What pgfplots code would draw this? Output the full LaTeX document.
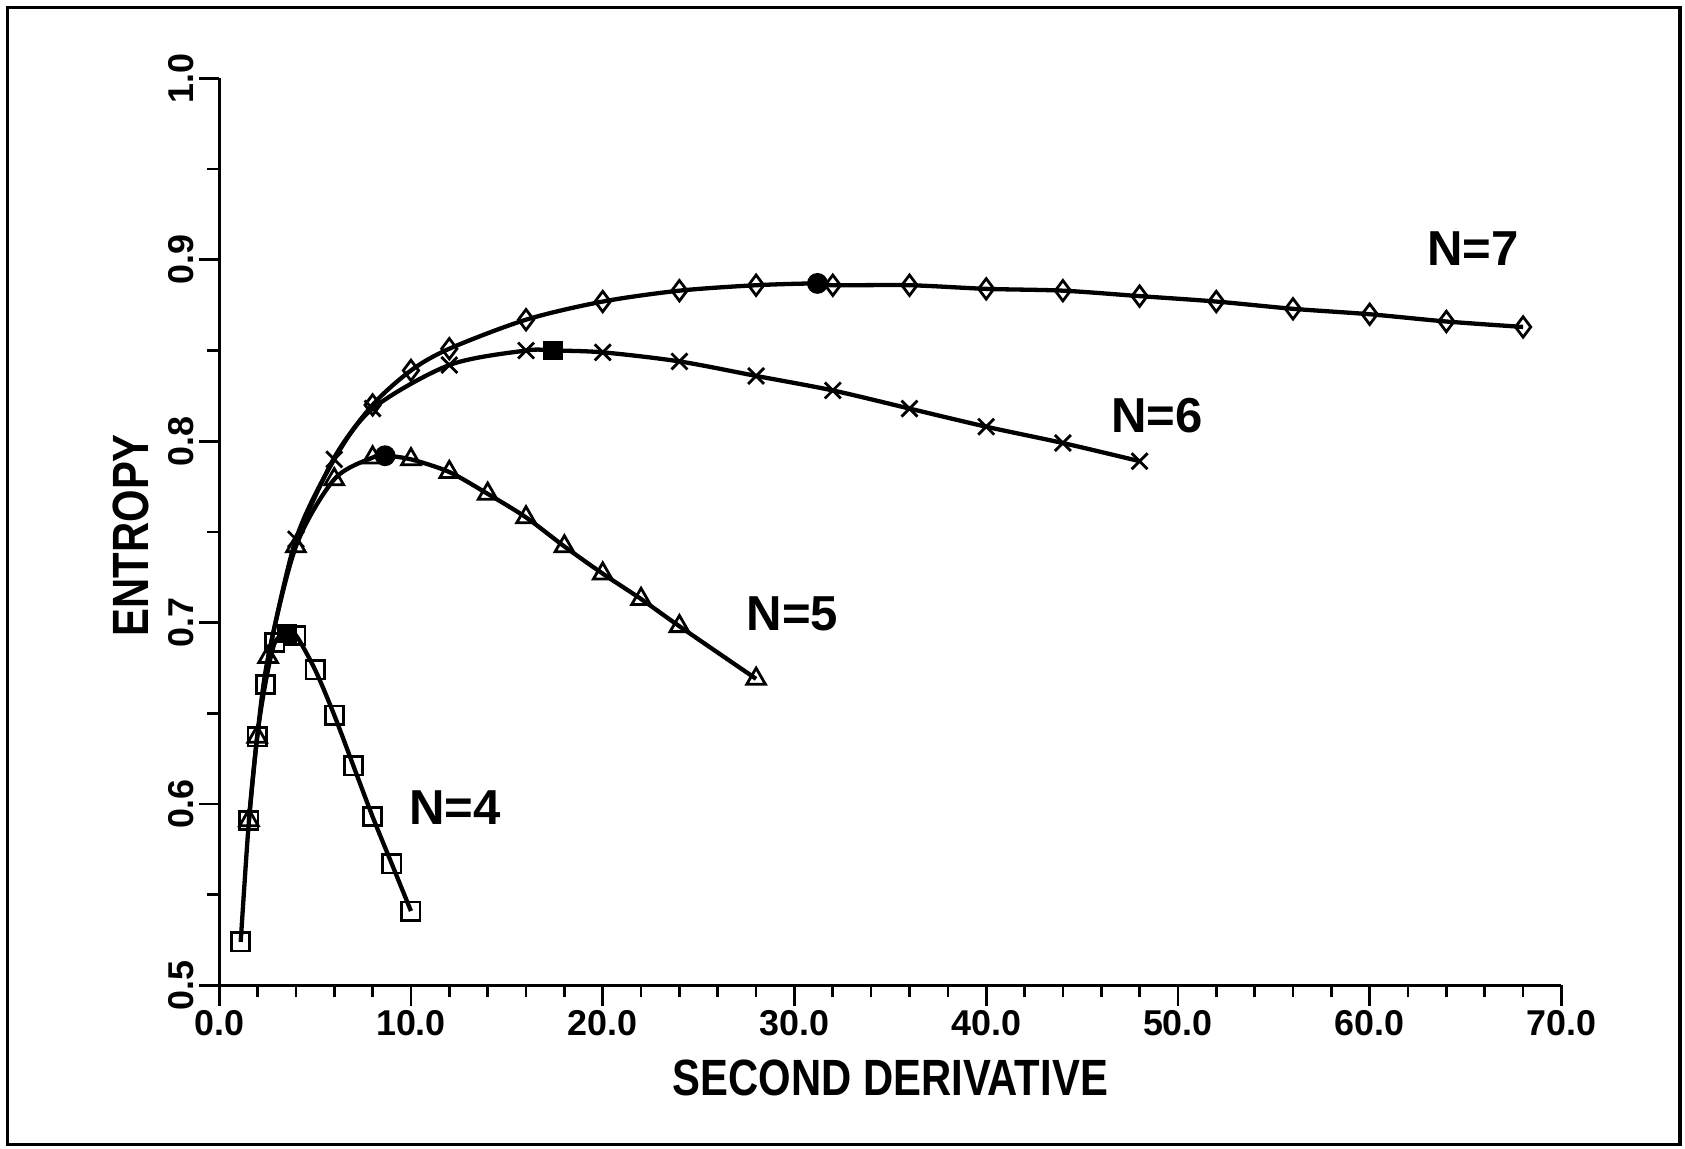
\documentclass[border=0pt]{standalone}
\usepackage{fontspec}
\setmainfont{Liberation Sans}
\newfontfamily\labfont{Liberation Sans}[FakeStretch=0.82]
\usepackage{pgfplots}
\pgfplotsset{compat=1.18}

\begin{document}
\begin{tikzpicture}
\useasboundingbox (0,0) rectangle (156.8mm,106.9mm);
\draw[line width=0.35mm] (0.7mm,0.4mm) rectangle (156.3mm,106.2mm);
\begin{axis}[
  at={(20.4mm,15.2mm)}, anchor=south west,
  scale only axis, width=124.9mm, height=84.4mm,
  xmin=0, xmax=70, ymin=0.5, ymax=1.0,
  axis x line*=bottom, axis y line*=left,
  axis line style={line width=0.3mm, -},
  every tick/.style={line width=0.25mm, black},
  tick align=outside,
  major tick length=1.9mm, minor tick length=1.1mm,
  xtick={0,10,20,30,40,50,60,70}, minor x tick num=4,
  ytick={0.5,0.6,0.7,0.8,0.9,1.0}, minor y tick num=1,
  /pgf/number format/.cd, fixed, fixed zerofill, precision=1, assume math mode=true,
  /pgfplots/.cd,
  ticklabel style={font=\bfseries\fontsize{9.5}{11}\selectfont},
  xticklabel style={inner sep=1pt},
  yticklabel style={rotate=90, anchor=south, inner sep=1pt},
  xlabel={SECOND DERIVATIVE}, ylabel={ENTROPY},
  xlabel style={at={(rel axis cs:0.5,-0.102)}, anchor=center, font=\labfont\bfseries\fontsize{13.5}{16}\selectfont},
  ylabel style={at={(rel axis cs:-0.0657,0.4964)}, anchor=center, font=\labfont\bfseries\fontsize{13.5}{16}\selectfont},
  clip=false,
]
% N=4
\addplot[line width=0.4mm, smooth, tension=0.5, no marks] coordinates {
(1.12,0.524)(1.55,0.591)(1.98,0.637)(2.4,0.666)(2.9,0.689)(3.55,0.694)(4.0,0.693)(5.0,0.674)(6.0,0.649)(7.0,0.621)(8.0,0.593)(9.0,0.567)(10.0,0.541)};
\addplot[only marks, mark=square, mark size=0.85mm, mark options={line width=0.26mm}] coordinates {
(1.12,0.524)(1.55,0.591)(1.98,0.637)(2.4,0.666)(2.9,0.689)(4.0,0.693)(5.0,0.674)(6.0,0.649)(7.0,0.621)(8.0,0.593)(9.0,0.567)(10.0,0.541)};
\addplot[only marks, mark=square*, mark size=0.85mm] coordinates {(3.55,0.694)};
% N=5
\addplot[line width=0.4mm, smooth, tension=0.5, no marks] coordinates {
(1.55,0.591)(1.98,0.637)(2.55,0.681)(4.0,0.742)(6.0,0.779)(8.0,0.791)(8.65,0.792)(10.0,0.790)(12.0,0.783)(14.0,0.771)(16.0,0.758)(18.0,0.742)(20.0,0.727)(22.0,0.713)(24.0,0.698)(28.0,0.669)};
\addplot[only marks, mark=triangle, mark size=1.0mm, mark options={line width=0.26mm}] coordinates {
(1.55,0.591)(1.98,0.637)(2.55,0.681)(4.0,0.742)(6.0,0.779)(8.0,0.791)(10.0,0.790)(12.0,0.783)(14.0,0.771)(16.0,0.758)(18.0,0.742)(20.0,0.727)(22.0,0.713)(24.0,0.698)(28.0,0.669)};
\addplot[only marks, mark=*, mark size=0.9mm] coordinates {(8.65,0.792)};
% N=6
\addplot[line width=0.4mm, smooth, tension=0.5, no marks] coordinates {
(2.55,0.681)(4.0,0.746)(6.0,0.790)(8.0,0.818)(12.0,0.842)(16.0,0.850)(17.4,0.850)(20.0,0.849)(24.0,0.844)(28.0,0.836)(32.0,0.828)(36.0,0.818)(40.0,0.808)(44.0,0.799)(48.0,0.789)};
\addplot[only marks, mark=x, mark size=1.05mm, mark options={line width=0.26mm}] coordinates {
(4.0,0.746)(6.0,0.790)(8.0,0.818)(12.0,0.842)(16.0,0.850)(20.0,0.849)(24.0,0.844)(28.0,0.836)(32.0,0.828)(36.0,0.818)(40.0,0.808)(44.0,0.799)(48.0,0.789)};
\addplot[only marks, mark=square*, mark size=0.85mm] coordinates {(17.4,0.850)};
% N=7
\addplot[line width=0.4mm, smooth, tension=0.5, no marks] coordinates {
(4.0,0.746)(6.0,0.791)(8.0,0.820)(10.0,0.839)(12.0,0.851)(16.0,0.867)(20.0,0.877)(24.0,0.883)(28.0,0.886)(31.2,0.887)(32.0,0.886)(36.0,0.886)(40.0,0.884)(44.0,0.883)(48.0,0.880)(52.0,0.877)(56.0,0.873)(60.0,0.870)(64.0,0.866)(68.0,0.863)};
\addplot[only marks, mark=diamond, mark size=0.95mm, mark options={line width=0.26mm}] coordinates {
(8.0,0.820)(10.0,0.839)(12.0,0.851)(16.0,0.867)(20.0,0.877)(24.0,0.883)(28.0,0.886)(32.0,0.886)(36.0,0.886)(40.0,0.884)(44.0,0.883)(48.0,0.880)(52.0,0.877)(56.0,0.873)(60.0,0.870)(64.0,0.866)(68.0,0.863)};
\addplot[only marks, mark=*, mark size=0.9mm] coordinates {(31.2,0.887)};
% labels
\node[font=\bfseries\fontsize{13}{15}\selectfont] at (axis cs:65.4,0.906) {N=7};
\node[font=\bfseries\fontsize{13}{15}\selectfont] at (axis cs:48.9,0.814) {N=6};
\node[font=\bfseries\fontsize{13}{15}\selectfont] at (axis cs:29.9,0.705) {N=5};
\node[font=\bfseries\fontsize{13}{15}\selectfont] at (axis cs:12.3,0.598) {N=4};
\end{axis}
\end{tikzpicture}
\end{document}
